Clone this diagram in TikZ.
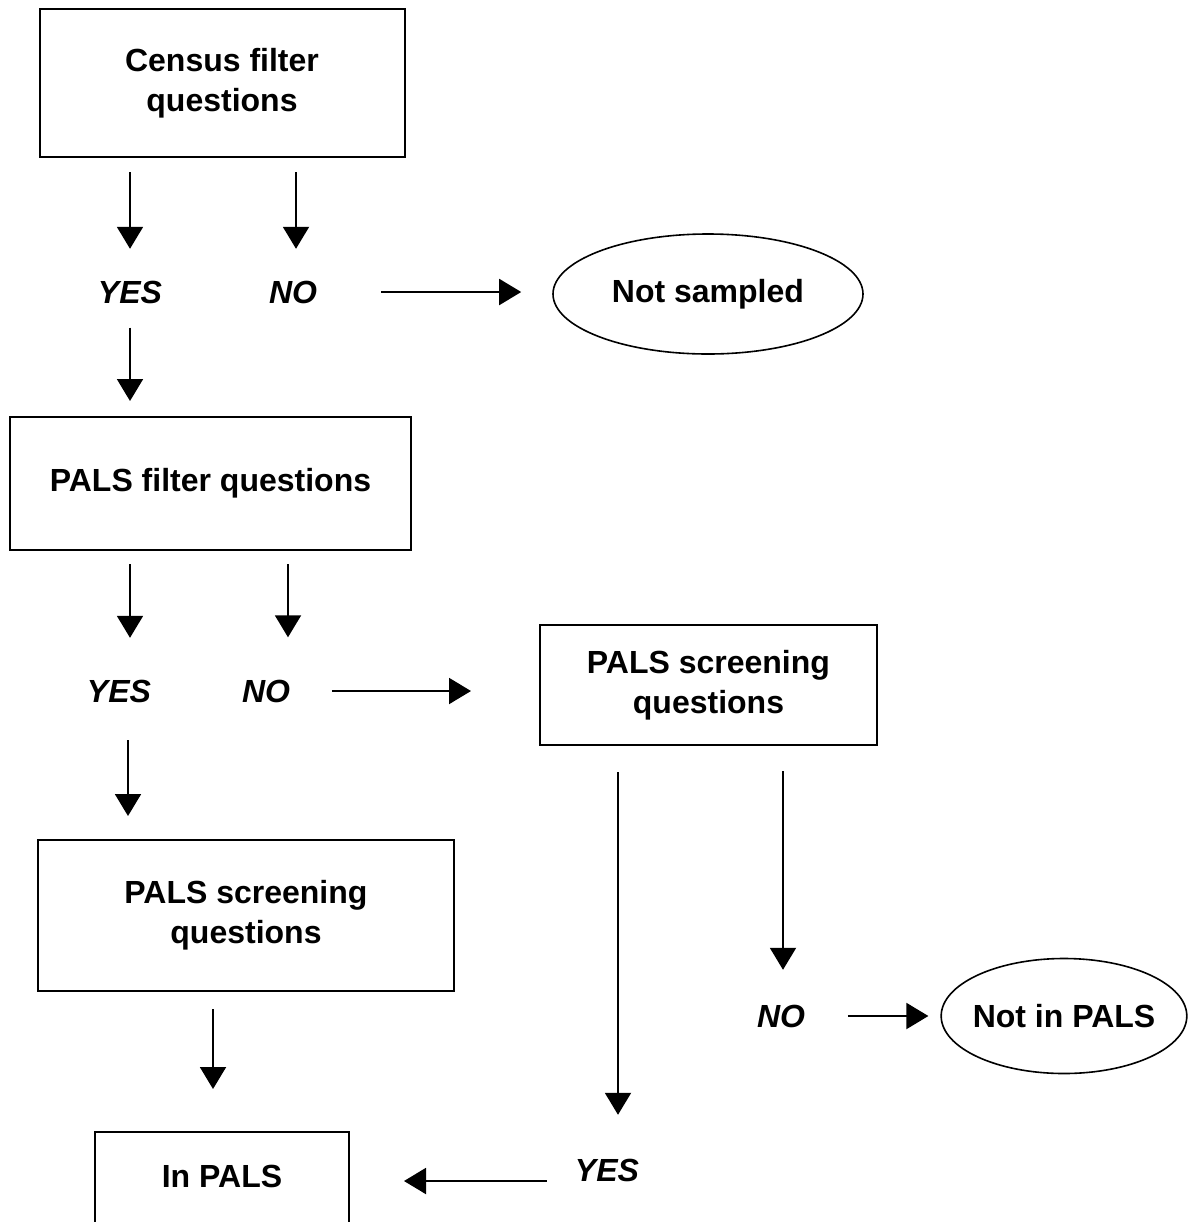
\documentclass[tikz,border=0pt]{standalone}
\usepackage{fontspec}
\setmainfont{Liberation Sans}
\usetikzlibrary{shapes.geometric,arrows.meta}

\begin{document}
\begin{tikzpicture}[x=0.5pt,y=-0.5pt,
    every node/.style={font=\fontsize{16}{20}\selectfont\bfseries},
    qbox/.style={draw,line width=1pt,align=center,inner sep=0pt},
    endoval/.style={draw,ellipse,line width=0.8pt,inner sep=0pt},
    ans/.style={inner sep=0pt,font=\fontsize{16}{20}\selectfont\bfseries\itshape},
    arr/.style={line width=1pt,-{Triangle[length=11pt,width=13pt]}}]
    \useasboundingbox (0,0) rectangle (1190,1222);
    \clip (0,0) rectangle (1190,1222);
    % boxes and answers
    \node[qbox,minimum width=182.5pt,minimum height=74pt] (census) at (222,83) {Census filter\\questions};
    \node[ans] (yes1) at (130,292) {YES};
    \node[ans] (no1) at (293,292) {NO};
    \node[endoval,minimum width=155pt,minimum height=60pt] (notsamp) at (708,294) {Not sampled};
    \node[qbox,minimum width=200.5pt,minimum height=66.5pt] (pfilter) at (210.5,483.5) {PALS filter questions};
    \node[ans] (yes2) at (119,691) {YES};
    \node[ans] (no2) at (266,691) {NO};
    \node[qbox,minimum width=168.5pt,minimum height=60pt] (screenR) at (708.5,685) {PALS screening\\questions};
    \node[qbox,minimum width=208pt,minimum height=75.5pt] (screenL) at (246,915.5) {PALS screening\\questions};
    \node[ans] (no3) at (781,1016) {NO};
    \node[endoval,inner xsep=-2.2pt,minimum height=57.5pt] (notin) at (1064,1016) {Not in PALS};
    \node[ans] (yes3) at (607,1170) {YES};
    \node[qbox,minimum width=127pt,anchor=base,text height=27.5pt,text depth=31.75pt] (inpals) at (222,1187) {In PALS};
    % arrows
    \draw[arr,shorten <=7pt,shorten >=15.75pt] (yes1 |- census.south) -- (yes1.north);
    \draw[arr,shorten <=7pt,shorten >=15.75pt] ([xshift=1.5pt]no1 |- census.south) -- ([xshift=1.5pt]no1.north);
    \draw[arr,shorten <=32pt,shorten >=15.5pt] (no1.east) -- (no1.east -| notsamp.west);
    \draw[arr,shorten <=12pt,shorten >=7.5pt] (yes1.south) -- (yes1 |- pfilter.north);
    \draw[arr,shorten <=6.5pt,shorten >=20.75pt] ([xshift=5.5pt]yes2 |- pfilter.south) -- ([xshift=5.5pt]yes2.north);
    \draw[arr,shorten <=6.5pt,shorten >=21pt] ([xshift=11pt]no2 |- pfilter.south) -- ([xshift=11pt]no2.north);
    \draw[arr,shorten <=20.75pt,shorten >=34pt] (no2.east) -- (no2.east -| screenR.west);
    \draw[arr,shorten <=18.75pt,shorten >=11.5pt] ([xshift=4.5pt]yes2.south) -- ([xshift=4.5pt]yes2 |- screenL.north);
    \draw[arr,shorten <=8.5pt,shorten >=21pt] ([xshift=-4.5pt]inpals.north |- screenL.south) -- ([xshift=-4.5pt]inpals.north);
    \draw[arr,shorten <=13pt,shorten >=21.75pt] ([xshift=5.5pt]yes3 |- screenR.south) -- ([xshift=5.5pt]yes3.north);
    \draw[arr,shorten <=12.5pt,shorten >=17.25pt] ([xshift=1pt]no3 |- screenR.south) -- ([xshift=1pt]no3.north);
    \draw[arr,shorten <=21.25pt,shorten >=6pt] (no3.east) -- (notin.west);
    \draw[arr,shorten <=14pt,shorten >=27pt] ([yshift=-5.5pt]yes3.west) -- ([yshift=-5.5pt]yes3.west -| inpals.east);
\end{tikzpicture}
\end{document}
